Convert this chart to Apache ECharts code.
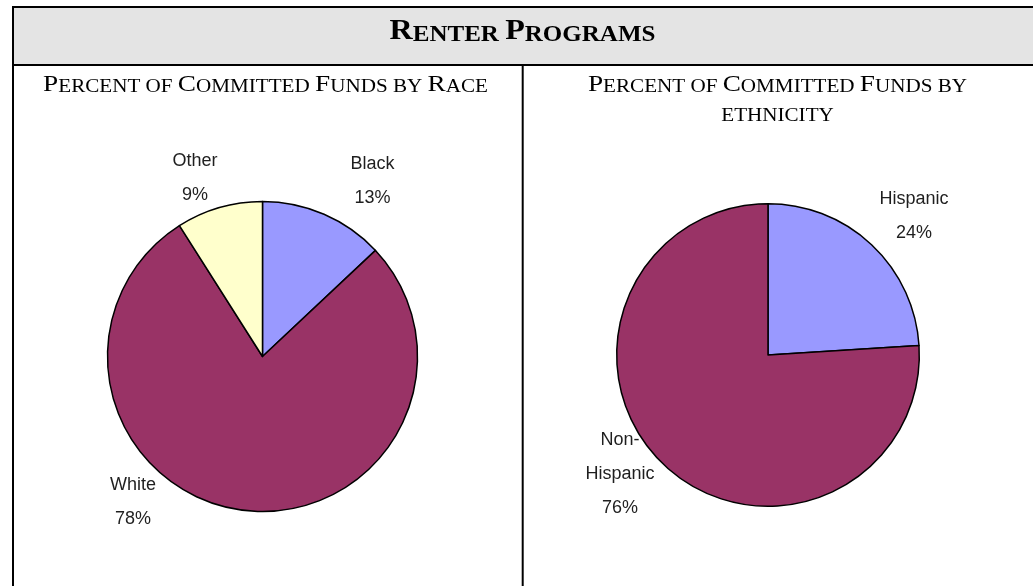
<!DOCTYPE html>
<html>
<head>
<meta charset="utf-8">
<script src="https://cdn.jsdelivr.net/npm/echarts@6/dist/echarts.min.js"></script>
<style>
  html, body { margin: 0; padding: 0; background: #fff; }
  #chart { width: 1033px; height: 586px; }
</style>
</head>
<body>
<div id="chart"></div>
<script>
// Headings (set in small capitals when drawn)
const sheetTitle = 'Renter Programs';
const raceTitle = 'Percent of Committed Funds by Race';
const ethnicityTitle = ['Percent of Committed Funds by', 'ethnicity'];

// Share of committed funds, percent
const raceCategories = ['Black', 'White', 'Other'];
const raceValues = [13, 78, 9];
const ethnicityCategories = ['Hispanic', 'Non-Hispanic'];
const ethnicityValues = [24, 76];

const raceColors = ['#9999FF', '#993366', '#FFFFCC'];
const ethnicityColors = ['#9999FF', '#993366'];

// Where each slice label sits (centre of the text block)
const raceLabelAnchors = [[372.5, 181], [133, 502], [195, 178]];
const ethnicityLabelAnchors = [[914, 216.5], [620, 474.5]];

const SERIF = "'Liberation Serif', 'Times New Roman', serif";
const LABEL_FONT = "'Liberation Sans', Arial, sans-serif";

// Turn mixed-case text into rich-text runs: capitals stay large, the rest become small capitals
function smallCaps(line, big, small) {
  let out = '', run = '', runBig = null;
  for (const ch of line) {
    const isBig = ch !== ch.toLowerCase();
    if (runBig !== null && isBig !== runBig) {
      out += '{' + (runBig ? big : small) + '|' + run + '}';
      run = '';
    }
    run += ch.toUpperCase();
    runBig = isBig;
  }
  if (run) out += '{' + (runBig ? big : small) + '|' + run + '}';
  return out;
}

// Rich styles for a small-caps pair; the small run gets a shorter box so baselines line up
function capsStyles(bigSize, smallSize, lineHeight, weight) {
  const shift = 2 * 0.3375 * (bigSize - smallSize);
  return {
    b: { fontFamily: SERIF, fontSize: bigSize, fontWeight: weight, lineHeight: lineHeight, verticalAlign: 'bottom', fill: '#000' },
    s: { fontFamily: SERIF, fontSize: smallSize, fontWeight: weight, lineHeight: lineHeight - shift, verticalAlign: 'bottom', fill: '#000' }
  };
}

function pieSeries(categories, values, colors, anchors, center, radius) {
  return {
    type: 'pie',
    center: center,
    radius: radius,
    startAngle: 90,
    clockwise: true,
    silent: true,
    avoidLabelOverlap: false,
    animation: false,
    data: categories.map((name, i) => ({ name: name, value: values[i], itemStyle: { color: colors[i] } })),
    itemStyle: { borderColor: '#000', borderWidth: 1.5 },
    label: {
      show: true,
      position: 'outside',
      fontFamily: LABEL_FONT,
      fontSize: 18,
      lineHeight: 34,
      color: '#1f1f1f',
      align: 'center',
      formatter: p => p.name.replace('-', '-\n') + '\n' + p.value + '%'
    },
    labelLine: { show: false },
    labelLayout: params => {
      const a = anchors[params.dataIndex];
      return { x: a[0], y: a[1], align: 'center', verticalAlign: 'middle' };
    },
    emphasis: { disabled: true }
  };
}

const chart = echarts.init(document.getElementById('chart'), null, { renderer: 'canvas' });

const mainStyles = capsStyles(30, 23.4, 32, 'bold');
const subStyles = capsStyles(24, 18.6, 29, 'normal');
const subStylesNextLine = Object.assign({}, subStyles, {
  n: Object.assign({}, subStyles.s, { lineHeight: 29 })
});

chart.setOption({
  backgroundColor: '#fff',
  animation: false,
  graphic: [
    // heading band
    { type: 'rect', z: 0, shape: { x: 13, y: 7, width: 1030, height: 58 }, style: { fill: '#e4e4e4' } },
    // table rules
    { type: 'line', z: 1, shape: { x1: 12, y1: 7, x2: 1040, y2: 7 }, style: { stroke: '#000', lineWidth: 2 } },
    { type: 'line', z: 1, shape: { x1: 13, y1: 6, x2: 13, y2: 600 }, style: { stroke: '#000', lineWidth: 2 } },
    { type: 'line', z: 1, shape: { x1: 12, y1: 65, x2: 1040, y2: 65 }, style: { stroke: '#000', lineWidth: 2 } },
    { type: 'line', z: 1, shape: { x1: 522.7, y1: 65, x2: 522.7, y2: 600 }, style: { stroke: '#000', lineWidth: 2 } },
    // headings, widened slightly to the set width of the table type
    {
      type: 'text', z: 2, x: 522.5, y: 14, scaleX: 1.07,
      style: { x: 0, y: 0, align: 'center', verticalAlign: 'top',
               text: smallCaps(sheetTitle, 'b', 's'), rich: mainStyles }
    },
    {
      type: 'text', z: 2, x: 265.5, y: 68, scaleX: 1.135,
      style: { x: 0, y: 0, align: 'center', verticalAlign: 'top',
               text: smallCaps(raceTitle, 'b', 's'), rich: subStyles }
    },
    {
      type: 'text', z: 2, x: 777.5, y: 68, scaleX: 1.135,
      style: { x: 0, y: 0, align: 'center', verticalAlign: 'top',
               text: smallCaps(ethnicityTitle[0], 'b', 's') + '\n' + smallCaps(ethnicityTitle[1], 'b', 'n'),
               rich: subStylesNextLine }
    }
  ],
  series: [
    pieSeries(raceCategories, raceValues, raceColors, raceLabelAnchors, [262.5, 356.5], 155),
    pieSeries(ethnicityCategories, ethnicityValues, ethnicityColors, ethnicityLabelAnchors, [768, 355], 151.3)
  ]
});
</script>
</body>
</html>
